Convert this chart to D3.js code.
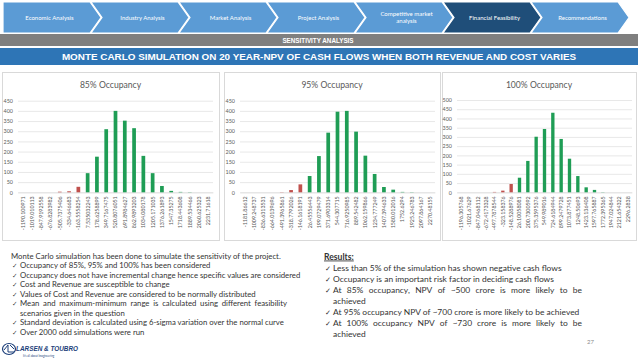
<!DOCTYPE html>
<html>
<head>
<meta charset="utf-8">
<script src="https://cdn.jsdelivr.net/npm/d3@7"></script>
<style>
body{margin:0;background:#fff;}
svg{display:block;}
</style>
</head>
<body>
<svg id="slide" width="638" height="359"></svg>
<script>
// ---- data ----
var navItems = ["Economic Analysis", "Industry Analysis", "Market Analysis", "Project Analysis", "Competitive market|analysis", "Financial Feasibility", "Recommendations"];
var activeNav = 5;

var chartTitles = ["85% Occupancy", "95% Occupancy", "100% Occupancy"];

var npvBins85 = ["-1190.100971","-1019.010113","-847.9192558","-676.8283982","-505.7375406","-334.646683","-163.5558254","7.535032243","178.6258899","349.7167475","520.8076051","691.8984627","862.9893203","1034.080178","1205.171035","1376.261893","1547.35275","1718.443608","1889.534466","2060.625323","2231.71618"];
var counts85 = [0,0,0,0,3,5,27,94,175,310,400,352,315,179,94,31,7,2,1,0,0];

var npvBins95 = ["-1181.86612","-1009.248737","-836.6313531","-664.0139696","-491.3965861","-318.7792026","-146.1618191","26.45556443","199.0729479","371.6903314","544.307715","716.9250985","889.542482","1062.159866","1234.777249","1407.394633","1580.012016","1752.6294","1925.246783","2097.864167","2270.48155"];
var counts95 = [0,0,0,0,1,11,39,80,178,293,396,400,298,180,90,26,13,2,1,0,0];

var npvBins100 = ["-1196.305768","-1021.67629","-847.0468112","-672.4173328","-497.7878544","-323.158376","-148.5288976","26.10058081","200.7300592","375.3595376","549.989016","724.6184944","899.2479728","1073.877451","1248.50693","1423.136408","1597.765887","1772.395365","1947.024844","2121.654322","2296.2838"];
var counts100 = [0,0,0,0,2,9,45,79,170,301,343,431,289,182,88,27,13,1,0,0,0];

var yTicks450 = [0,50,100,150,200,250,300,350,400,450];
var yTicks500 = [0,50,100,150,200,250,300,350,400,450,500];

var introLine = "Monte Carlo simulation has been done to simulate the sensitivity of the project.";
var methodBullets = [
  ["Occupancy of 85%, 95% and 100% has been considered"],
  ["Occupancy does not have incremental change hence specific values are considered"],
  ["Cost and Revenue are susceptible to change"],
  ["Values of Cost and Revenue are considered to be normally distributed"],
  ["Mean and maximum-minimum range is calculated using different feasibility", "scenarios given in the question"],
  ["Standard deviation is calculated using 6-sigma variation over the normal curve"],
  ["Over 2000 odd simulations were run"]
];
var resultBullets = [
  ["Less than 5% of the simulation has shown negative cash flows"],
  ["Occupancy is an important risk factor in deciding cash flows"],
  ["At 85% occupancy, NPV of ~500 crore is more likely to be", "achieved"],
  ["At 95% occupancy NPV of ~700 crore is more likely to be achieved"],
  ["At 100% occupancy NPV of ~730 crore is more likely to be", "achieved"]
];

// ---- styles ----
var navBlue = "#5b9bd5", navDark = "#1f4e79";
var barGreen = "#1f9d55", barRed = "#c0504d";
var gridCol = "#d9d9d9", axisText = "#595959", bodyText = "#333333";
var bodyFont = "Lato, 'Open Sans', sans-serif";

var svg = d3.select("#slide");

// ---- top navigation chevrons ----
function drawNav(){
  var top = 2, bot = 33, mid = (top+bot)/2, pitch = 88, x0 = 3, tip = 11;
  var g = svg.append("g").attr("name","nav");
  navItems.forEach(function(label, i){
    var a = x0 + i*pitch, b = a + pitch - 1;
    var pts = [[a,top],[b,top],[b+tip,mid],[b,bot],[a,bot]];
    if(i>0) pts.push([a+tip,mid]);
    g.append("polygon")
      .attr("points", pts.map(function(p){return p.join(",");}).join(" "))
      .attr("fill", i==activeNav ? navDark : navBlue)
      .attr("stroke","#fff").attr("stroke-width",1.2);
    var lines = label.split("|");
    var cx = a + (pitch+tip)/2 + (i>0 ? 2 : -3);
    lines.forEach(function(t, k){
      g.append("text")
        .attr("x", cx)
        .attr("y", mid + 2 + (k - (lines.length-1)/2)*7.5)
        .attr("text-anchor","middle")
        .attr("font-family", bodyFont)
        .attr("font-size", 6)
        .attr("fill","#fff")
        .text(t);
    });
  });
}

function drawBanners(){
  svg.append("rect").attr("x",0).attr("y",34).attr("width",638).attr("height",12).attr("fill","#7f7f7f");
  svg.append("text").attr("x",318).attr("y",42.5).attr("text-anchor","middle")
    .attr("font-family","Liberation Sans, Arial, sans-serif").attr("font-weight","bold")
    .attr("font-size",6.3).attr("fill","#fff").text("SENSITIVITY ANALYSIS");
  svg.append("rect").attr("x",0).attr("y",48).attr("width",638).attr("height",17).attr("fill","#2e75b6");
  svg.append("text").attr("x",319).attr("y",60).attr("text-anchor","middle")
    .attr("font-family","Liberation Sans, Arial, sans-serif").attr("font-weight","bold")
    .attr("font-size",9.9).attr("fill","#fff")
    .text("MONTE CARLO SIMULATION ON 20 YEAR-NPV OF CASH FLOWS WHEN BOTH REVENUE AND COST VARIES");
}

// ---- histogram panels ----
function drawChart(cfg){
  var g = svg.append("g").attr("name","chart");
  g.append("rect").attr("x",cfg.box[0]+0.5).attr("y",cfg.box[1]+0.5)
    .attr("width",cfg.box[2]).attr("height",cfg.box[3])
    .attr("fill","#fff").attr("stroke",gridCol);
  g.append("text")
    .attr("x",cfg.box[0]+cfg.box[2]/2).attr("y",88)
    .attr("text-anchor","middle").attr("font-family",bodyFont)
    .attr("font-size",8.6).attr("fill",axisText).text(cfg.title);

  var x = d3.scaleBand().domain(cfg.categories).range([cfg.left, cfg.right]).paddingInner(0.6).paddingOuter(0.3);
  var y = d3.scaleLinear().domain([0, d3.max(cfg.ticks)]).range([cfg.bottom, cfg.top]);

  var yAxis = g.append("g").attr("transform","translate("+cfg.left+",0)")
    .call(d3.axisLeft(y).tickValues(cfg.ticks).tickSize(-(cfg.right-cfg.left)).tickPadding(5));
  yAxis.select(".domain").remove();
  yAxis.selectAll("line").attr("stroke",gridCol).attr("stroke-width",0.6);
  yAxis.selectAll("text").attr("fill",axisText).attr("font-family",bodyFont).attr("font-size",5.4);

  var xAxis = g.append("g").attr("transform","translate(0,"+cfg.bottom+")")
    .call(d3.axisBottom(x).tickSize(0));
  xAxis.select(".domain").attr("stroke",gridCol).attr("stroke-width",0.6);
  xAxis.selectAll("text")
    .attr("transform","rotate(-90)")
    .attr("text-anchor","end")
    .attr("x",-4).attr("y",0).attr("dy","0.35em")
    .attr("fill",axisText).attr("font-family",bodyFont).attr("font-size",5.3);

  g.selectAll("rect.bar").data(cfg.values).enter().append("rect")
    .attr("class","bar")
    .attr("x",function(d,i){return x(cfg.categories[i]);})
    .attr("width",x.bandwidth())
    .attr("y",function(d){return y(d);})
    .attr("height",function(d){return y(0)-y(d);})
    .attr("fill",function(d,i){return cfg.categories[i].charAt(0)=="-" ? barRed : barGreen;});
}

// ---- body text ----
function justifyLine(g, line, x0, x1, yy, size){
  var words = line.split(" ");
  var nodes = words.map(function(w){
    return g.append("text").attr("y",yy).attr("font-family",bodyFont).attr("font-size",size).attr("fill",bodyText).text(w);
  });
  var widths = nodes.map(function(n){return n.node().getComputedTextLength();});
  var gap = (x1 - x0 - d3.sum(widths)) / (words.length - 1);
  var cx = x0;
  nodes.forEach(function(n,i){ n.attr("x",cx); cx += widths[i] + gap; });
}

function drawBullets(bullets, opt){
  var g = svg.append("g");
  var yy = opt.y;
  bullets.forEach(function(lines){
    g.append("text").attr("x",opt.checkX).attr("y",yy).attr("font-family","DejaVu Sans, sans-serif")
      .attr("font-size",opt.size*0.85).attr("fill",bodyText).text("\u2713");
    lines.forEach(function(line, k){
      if(k==0 && lines.length>1){
        justifyLine(g, line, opt.textX, opt.right, yy, opt.size);
      } else {
        g.append("text").attr("x",opt.textX).attr("y",yy).attr("font-family",bodyFont)
          .attr("font-size",opt.size).attr("fill",bodyText).text(line);
      }
      yy += opt.step;
    });
  });
}

function drawLogo(){
  var g = svg.append("g").attr("name","logo");
  g.append("ellipse").attr("cx",9).attr("cy",349).attr("rx",6.5).attr("ry",5.5)
    .attr("fill","none").attr("stroke","#1c3f7a").attr("stroke-width",1.2);
  g.append("path").attr("d","M4,350 L8,345 L8,352 L14,352 M10,345 L14,349")
    .attr("fill","none").attr("stroke","#1c3f7a").attr("stroke-width",1);
  g.append("text").attr("x",16).attr("y",351).attr("font-family","Liberation Sans, Arial, sans-serif")
    .attr("font-weight","bold").attr("font-style","italic").attr("font-size",6.4)
    .attr("fill","#1c3f7a").text("LARSEN & TOUBRO");
  g.append("text").attr("x",23).attr("y",356.5).attr("font-family",bodyFont)
    .attr("font-size",2.8).attr("fill","#1c3f7a").text("It's all about Imagineering");
}

drawNav();
drawBanners();

drawChart({box:[2,72,217,168], title:chartTitles[0], categories:npvBins85, values:counts85, ticks:yTicks450,
  left:18, right:213, top:100.7, bottom:192.3});
drawChart({box:[224,72,216,168], title:chartTitles[1], categories:npvBins95, values:counts95, ticks:yTicks450,
  left:240, right:435, top:100.7, bottom:192.3});
drawChart({box:[442,72,194,168], title:chartTitles[2], categories:npvBins100, values:counts100, ticks:yTicks500,
  left:457, right:632, top:100, bottom:192.3});

svg.append("text").attr("x",11).attr("y",258.5).attr("font-family",bodyFont).attr("font-size",7.75)
  .attr("fill",bodyText).text(introLine);
drawBullets(methodBullets, {y:268, checkX:12, textX:20, right:287, step:9.5, size:7.75});

svg.append("text").attr("x",324).attr("y",259.5).attr("font-family",bodyFont).attr("font-weight","bold")
  .attr("font-size",8.6).attr("fill",bodyText).attr("text-decoration","underline").text("Results:");
drawBullets(resultBullets, {y:271, checkX:325, textX:333, right:582, step:11, size:8.45});

svg.append("text").attr("x",587).attr("y",344).attr("font-family",bodyFont).attr("font-size",6)
  .attr("fill","#8c8c8c").text("27");
drawLogo();
</script>
</body>
</html>
